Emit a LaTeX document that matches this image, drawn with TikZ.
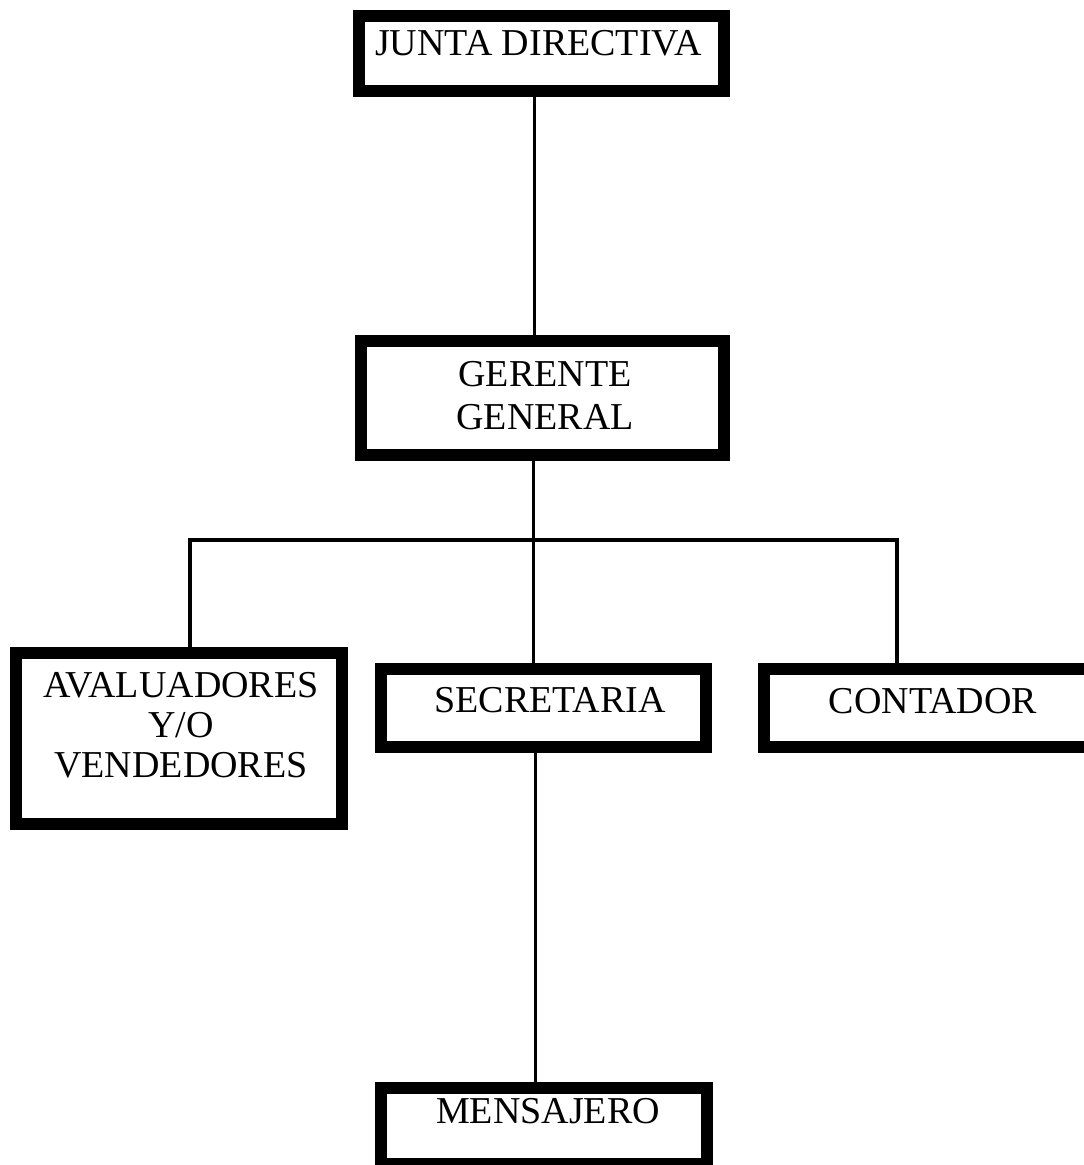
\documentclass[tikz,border=0pt]{standalone}
\usepackage{fontspec}
\setmainfont{Liberation Serif}
\begin{document}
\begin{tikzpicture}[x=1pt,y=-1pt,
  box/.style={draw=black,line width=12pt,rectangle,inner sep=0pt,fill=white},
  txt/.style={inner sep=0pt,align=center,font=\fontsize{38}{41}\selectfont},
  conn/.style={draw=black,line width=3.5pt}]
\useasboundingbox (0,0) rectangle (1084,1165);
% boxes
\node[box,minimum width=365pt,minimum height=75pt] (JD) at (541.5,53.5) {};
\node[box,minimum width=363pt,minimum height=114pt] (GG) at (542.5,398) {};
\node[box,minimum width=326pt,minimum height=171pt] (AV) at (179,738.5) {};
\node[box,minimum width=325pt,minimum height=78pt] (SE) at (543.5,708) {};
\node[box,minimum width=326pt,minimum height=78pt] (CO) at (927,708) {};
\node[box,minimum width=326pt,minimum height=76pt] (ME) at (544,1126) {};
% texts
\node[txt] (JDt) at (538.5,43.5) {JUNTA DIRECTIVA};
\node[txt,font=\fontsize{38}{43}\selectfont] (GGt) at (545,396) {GERENTE\\GENERAL};
\node[txt,font=\fontsize{38}{40}\selectfont] (AVt) at (181,725) {AVALUADORES\\Y/O\\VENDEDORES};
\node[txt] (SEt) at (550,700) {SECRETARIA};
\node[txt] (COt) at (933,701) {CONTADOR};
\node[txt] (MEt) at (548,1111) {MENSAJERO};
% connectors
\coordinate (busL) at ([xshift=11pt]AV.north |- 0,540);
\coordinate (busR) at ([xshift=-30pt]CO.north |- 0,540);
\draw[conn] ([xshift=-7pt]JD.south) -- ([xshift=-7pt]JD.south |- GG.north);
\draw[conn] ([xshift=-9pt]GG.south) -- ([xshift=-9pt]GG.south |- SE.north);
\draw[conn,line join=miter] ([xshift=11pt]AV.north) -- (busL) -- (busR) -- ([xshift=-30pt]CO.north);
\draw[conn] ([xshift=-8pt]SE.south) -- ([xshift=-8pt]SE.south |- ME.north);
\end{tikzpicture}
\end{document}
